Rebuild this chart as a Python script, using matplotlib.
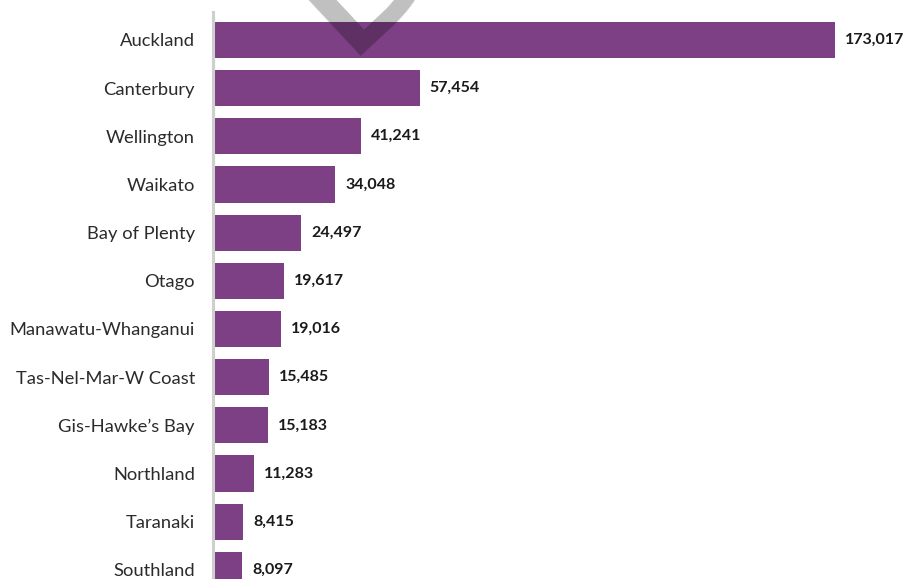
import matplotlib.pyplot as plt

plt.rcParams['font.family'] = ['Lato', 'DejaVu Sans']

# DATA
###############################################################################
regions = ['Auckland', 'Canterbury', 'Wellington', 'Waikato', 'Bay of Plenty',
           'Otago', 'Manawatu-Whanganui', 'Tas-Nel-Mar-W Coast',
           "Gis-Hawke\u2019s Bay", 'Northland', 'Taranaki', 'Southland']
counts = [173017, 57454, 41241, 34048, 24497, 19617, 19016, 15485, 15183,
          11283, 8415, 8097]
###############################################################################

bar_color = '#7d4084'

fig = plt.figure(figsize=(9.05, 5.79), dpi=100)
ax = fig.add_axes([213 / 905, 0, 692 / 905, 567 / 579])

ypos = list(range(len(regions)))
ax.barh(ypos, counts, height=0.75, color=bar_color, zorder=2)

for y, v in zip(ypos, counts):
    ax.text(v + 2800, y, f'{v:,}', va='center', ha='left',
            fontsize=11.5, fontweight='bold', color='#1a1a1a')

ax.set_yticks(ypos)
ax.set_yticklabels(regions, fontsize=13.2, color='#2b2b2b')
ax.tick_params(axis='y', length=0, pad=13)
ax.set_xticks([])
ax.set_xlim(0, 173017 * 692 / 622)
ax.set_ylim(11.19, -0.58)

for s in ['top', 'right', 'bottom']:
    ax.spines[s].set_visible(False)
ax.spines['left'].set_color('#cfcfcf')
ax.spines['left'].set_linewidth(2.2)

# watermark (only its lower edge shows)
fig.text(340 / 905, 1 - 56 / 579, 'DRAFT', fontsize=150, color='black',
         alpha=0.25, rotation=43, rotation_mode='anchor', ha='left',
         va='baseline', family='DejaVu Sans', zorder=10)

fig.savefig('out.png', dpi=100)
